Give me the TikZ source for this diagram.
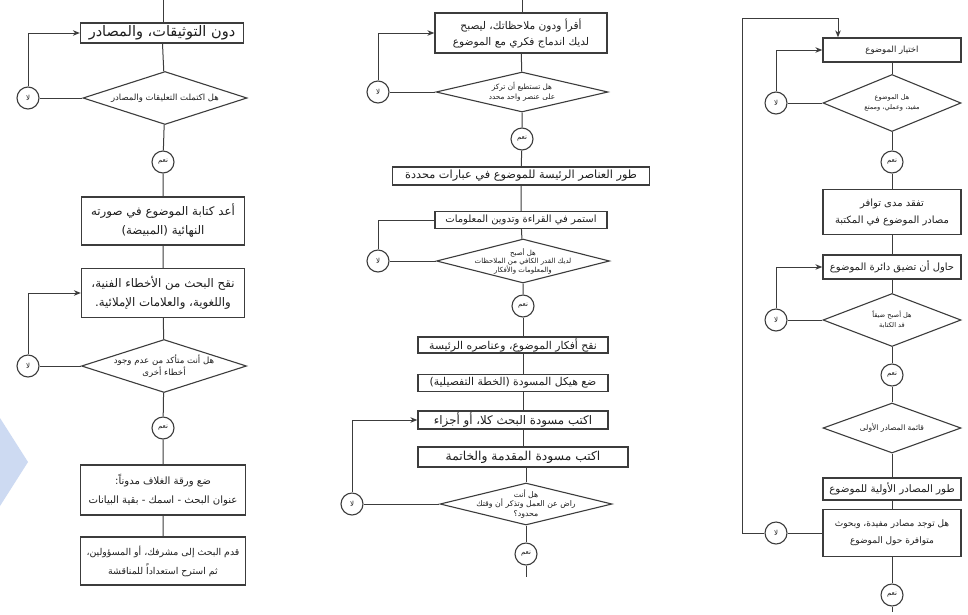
\documentclass[tikz,border=0pt]{standalone}
\usepackage{fontspec}
\newfontfamily\arabicfont[Script=Arabic]{DejaVu Sans}
\TeXXeTstate=1
\usetikzlibrary{shapes.geometric,arrows.meta,calc}
\newcommand{\ar}[1]{\beginR #1\endR}
\newcommand{\fs}[2]{\arabicfont\fontsize{#1}{#2}\selectfont}
\definecolor{linec}{RGB}{60,60,60}
\definecolor{txtc}{RGB}{30,30,30}
\definecolor{wmark}{RGB}{205,218,242}
\tikzset{
  lin/.style={draw=linec, line width=1pt},
  arr/.style={draw=linec, line width=1pt, -{Stealth[length=7pt,width=5.5pt]}},
  pbox/.style={draw=linec, line width=1.3pt, fill=white, inner sep=0.5pt, text=txtc, align=center},
  dia/.style={diamond, draw=linec, line width=1.1pt, fill=white, inner sep=0pt},
  dtext/.style={inner sep=0pt, text=txtc, align=center},
  cir/.style={circle, draw=linec, line width=1.1pt, fill=white, minimum size=22pt, inner sep=0pt, text=txtc, font=\fs{7}{8}},
}
\begin{document}
\begin{tikzpicture}[x=1pt,y=-1pt]
\useasboundingbox (0,0) rectangle (968,614);
\fill[white] (0,0) rectangle (968,614);
\fill[wmark] (0,418) -- (28,462) -- (0,506) -- cycle;

% ---------------- right column ----------------
\node[pbox,font=\fs{8.5}{12},minimum width=138pt,minimum height=24pt] (R1) at (892,50) {\ar{اختيار الموضوع}};
\node[dia,minimum width=138pt,minimum height=57pt] (RD1) at (892,103) {};
\node[dtext,font=\fs{6.6}{10}] (RD1t) at (RD1) {\ar{هل الموضوع}\\\ar{مفيد، وعملي، وممتع}};
\node[cir] (RN1) at (892,162) {\ar{نعم}};
\node[pbox,font=\fs{10}{17},minimum width=138pt,minimum height=45pt] (R2) at (892,212) {\ar{تفقد مدى توافر}\\\ar{مصادر الموضوع في المكتبة}};
\node[pbox,font=\fs{10}{12},minimum width=138pt,minimum height=24pt] (R3) at (892,267) {\ar{حاول أن تضيق دائرة الموضوع}};
\node[dia,minimum width=138pt,minimum height=53pt] (RD2) at (892,320) {};
\node[dtext,font=\fs{6.6}{10}] (RD2t) at (RD2) {\ar{هل أصبح ضيقاً}\\\ar{قد الكتابة}};
\node[cir] (RN2) at (892,375) {\ar{نعم}};
\node[dia,minimum width=138pt,minimum height=50pt] (RD3) at (892,428) {};
\node[dtext,font=\fs{7.5}{10}] (RD3t) at (RD3) {\ar{قائمة المصادر الأولى}};
\node[pbox,font=\fs{10.3}{12},minimum width=138pt,minimum height=22pt] (R4) at (892,489) {\ar{طور المصادر الأولية للموضوع}};
\node[pbox,font=\fs{9}{17},minimum width=138pt,minimum height=47pt] (R5) at (892,533) {\ar{هل توجد مصادر مفيدة، وبحوث}\\\ar{متوافرة حول الموضوع}};
\node[cir] (RN3) at (892,595) {\ar{نعم}};
\node[cir] (RL1) at (776,103) {\ar{لا}};
\node[cir] (RL2) at (776,320) {\ar{لا}};
\node[cir] (RL3) at (776,533) {\ar{لا}};
\coordinate (Rend) at (892,612);
\coordinate (Rc1) at (742,18);
\coordinate (Rc2) at (838,18);

\draw[lin] (R1) -- (RD1) -- (RN1) -- (R2) -- (R3) -- (RD2) -- (RN2) -- (RD3) -- (R4) -- (R5) -- (RN3) -- (Rend);
\draw[lin] (RD1.west) -- (RL1.east);
\draw[arr] (RL1.north) |- (R1.west);
\draw[lin] (RD2.west) -- (RL2.east);
\draw[arr] (RL2.north) |- (R3.west);
\draw[lin] (R5.west) -- (RL3.east);
\draw[arr] (RL3.west) -| (Rc1) -- (Rc2) -- (Rc2 |- R1.north);

% ---------------- middle column ----------------
\coordinate (mx) at (523,0);
\node[pbox,font=\fs{10.6}{16},minimum width=172pt,minimum height=40pt] (M1) at (521,33) {\ar{أقرأ ودون ملاحظاتك، ليصبح}\\\ar{لديك اندماج فكري مع الموضوع}};
\node[dia,minimum width=172pt,minimum height=40pt] (MD1) at (522,92) {};
\node[dtext,font=\fs{7.3}{10}] (MD1t) at (MD1) {\ar{هل تستطيع أن تركز}\\\ar{على عنصر واحد محدد}};
\node[cir] (MN1) at (522,139) {\ar{نعم}};
\node[pbox,font=\fs{11.3}{12},minimum width=257pt,minimum height=18pt] (M2) at (521,176) {\ar{طور العناصر الرئيسة للموضوع في عبارات محددة}};
\node[pbox,font=\fs{10}{12},minimum width=172pt,minimum height=17pt] (M3) at (521,220) {\ar{استمر في القراءة وتدوين المعلومات}};
\node[dia,minimum width=173pt,minimum height=44pt] (MD2) at (523,261) {};
\node[dtext,font=\fs{7}{8.5}] (MD2t) at (MD2) {\ar{هل أصبح}\\\ar{لديك القدر الكافي من الملاحظات}\\\ar{والمعلومات والأفكار}};
\node[cir] (MN2) at (523,306) {\ar{نعم}};
\node[pbox,font=\fs{10.8}{12},minimum width=190pt,minimum height=16pt] (M4) at (513,345) {\ar{نقح أفكار الموضوع، وعناصره الرئيسة}};
\node[pbox,font=\fs{10.8}{12},minimum width=190pt,minimum height=17pt] (M5) at (513,383) {\ar{ضع هيكل المسودة (الخطة التفصيلية)}};
\node[pbox,font=\fs{11.8}{12},minimum width=190pt,minimum height=18pt] (M6) at (513,420) {\ar{اكتب مسودة البحث كلا، أو أجزاء}};
\node[pbox,font=\fs{12.3}{13},minimum width=210pt,minimum height=20pt] (M7) at (523,457) {\ar{اكتب مسودة المقدمة والخاتمة}};
\node[dia,minimum width=172pt,minimum height=42pt] (MD3) at (526,504) {};
\node[dtext,font=\fs{7.8}{9.3}] (MD3t) at (MD3) {\ar{هل أنت}\\\ar{راض عن العمل وتذكر أن وقتك}\\\ar{محدود؟}};
\node[cir] (MN3) at (526,554) {\ar{نعم}};
\node[cir] (ML1) at (378,92) {\ar{لا}};
\node[cir] (ML2) at (378,261) {\ar{لا}};
\node[cir] (ML3) at (352,504) {\ar{لا}};
\coordinate (Mtop) at (522,0);
\coordinate (Mend) at (526,577);

\draw[lin] (Mtop) -- (M1.north -| Mtop);
\draw[lin] (M1) -- (MD1) -- (MN1) -- (M2) -- (M3) -- (MD2) -- (MN2);
\draw[lin] (MN2.south) -- (M4.north -| mx);
\draw[lin] (M4.south -| mx) -- (M5.north -| mx);
\draw[lin] (M5.south -| mx) -- (M6.north -| mx);
\draw[lin] (M6.south -| mx) -- (M7.north -| mx);
\draw[lin] (M7.south -| MD3) -- (MD3.north);
\draw[lin] (MD3) -- (MN3) -- (Mend);
\draw[lin] (MD1.west) -- (ML1.east);
\draw[arr] (ML1.north) |- (M1.west);
\draw[lin] (MD2.west) -- (ML2.east);
\draw[lin] (ML2.north) |- (M3.west);
\draw[lin] (MD3.west) -- (ML3.east);
\draw[arr] (ML3.north) |- (M6.west);

% ---------------- left column ----------------
\node[pbox,font=\fs{14.5}{15},minimum width=163pt,minimum height=20pt] (L1) at (162,33) {\ar{دون التوثيقات، والمصادر}};
\node[dia,minimum width=164pt,minimum height=53pt] (LD1) at (165,98) {};
\node[dtext,font=\fs{8.5}{10}] (LD1t) at (LD1) {\ar{هل اكتملت التعليقات والمصادر}};
\node[cir] (LN1) at (163,162) {\ar{نعم}};
\node[pbox,font=\fs{11.8}{19},minimum width=163pt,minimum height=48pt] (L2) at (163,221) {\ar{أعد كتابة الموضوع في صورته}\\\ar{النهائية (المبيضة)}};
\node[pbox,font=\fs{11.8}{19},minimum width=163pt,minimum height=49pt] (L3) at (163,293) {\ar{نقح البحث من الأخطاء الفنية،}\\\ar{واللغوية، والعلامات الإملائية.}};
\node[dia,minimum width=165pt,minimum height=53pt] (LD2) at (164,366) {};
\node[dtext,font=\fs{8.6}{12}] (LD2t) at (LD2) {\ar{هل أنت متأكد من عدم وجود}\\\ar{أخطاء أخرى}};
\node[cir] (LN2) at (163,428) {\ar{نعم}};
\node[pbox,font=\fs{10.1}{19},minimum width=165pt,minimum height=50pt] (L4) at (163,490) {\ar{ضع ورقة الغلاف مدوناً:}\\\ar{عنوان البحث - اسمك - بقية البيانات}};
\node[pbox,font=\fs{9.4}{19},minimum width=165pt,minimum height=48pt] (L5) at (163,561) {\ar{قدم البحث إلى مشرفك، أو المسؤولين،}\\\ar{ثم استرح استعداداً للمناقشة}};
\node[cir] (LL1) at (28,98) {\ar{لا}};
\node[cir] (LL2) at (28,366) {\ar{لا}};
\coordinate (Ltop) at (163,0);

\draw[lin] (Ltop) -- (L1.north -| Ltop);
\draw[lin] (L1) -- (LD1) -- (LN1) -- (L2) -- (L3) -- (LD2) -- (LN2) -- (L4) -- (L5);
\draw[lin] (LD1.west) -- (LL1.east);
\draw[arr] (LL1.north) |- (L1.west);
\draw[lin] (LD2.west) -- (LL2.east);
\draw[arr] (LL2.north) |- (L3.west);
\end{tikzpicture}
\end{document}
